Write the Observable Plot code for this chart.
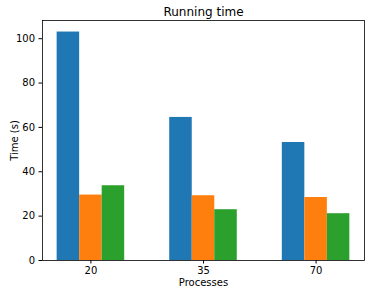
<!DOCTYPE html>
<html><head><meta charset="utf-8">
<script src="https://cdn.jsdelivr.net/npm/d3@7"></script>
<script src="https://cdn.jsdelivr.net/npm/@observablehq/plot@0.6"></script>
<style>body{margin:0;background:#fff}</style>
</head><body><div id="chart"></div>
<script>
const categories = ["20", "35", "70"];
const seriesA = [103.0, 64.5, 53.2];
const seriesB = [29.5, 29.2, 28.4];
const seriesC = [33.7, 22.9, 21.1];
const seriesColors = ["#1f77b4", "#ff7f0e", "#2ca02c"];
const yTicks = [0, 20, 40, 60, 80, 100];
const title = "Running time";

const barWidth = 0.2;
const table = [];
[seriesA, seriesB, seriesC].forEach((s, j) => {
  s.forEach((v, i) => {
    const c = i + (j - 1) * barWidth;
    table.push({x1: c - barWidth / 2, x2: c + barWidth / 2, y: v, s: j});
  });
});

const chart = Plot.plot({
  width: 374, height: 294,
  marginLeft: 42, marginRight: 10, marginTop: 20, marginBottom: 34,
  style: {fontFamily: "DejaVu Sans", fontSize: "10px", color: "#000", background: "#fff"},
  x: {domain: [-0.43, 2.43]},
  y: {domain: [0, 108.2]},
  marks: [
    Plot.rectY(table, {x1: "x1", x2: "x2", y: "y", fill: d => seriesColors[d.s]}),
    Plot.frame({stroke: "#000", strokeWidth: 0.8}),
    Plot.axisY({ticks: yTicks, tickSize: 3.5, tickPadding: 4, label: "Time (s)", labelAnchor: "center", labelArrow: "none", labelOffset: 32}),
    Plot.axisX({ticks: [0, 1, 2], tickFormat: i => categories[i], tickSize: 3.5, tickPadding: 3, label: "Processes", labelAnchor: "center", labelArrow: "none", labelOffset: 25}),
    Plot.text([title], {text: d => d, frameAnchor: "top", dy: -8, fontSize: 12, lineAnchor: "middle"})
  ]
});
document.getElementById("chart").appendChild(chart);
</script></body></html>
